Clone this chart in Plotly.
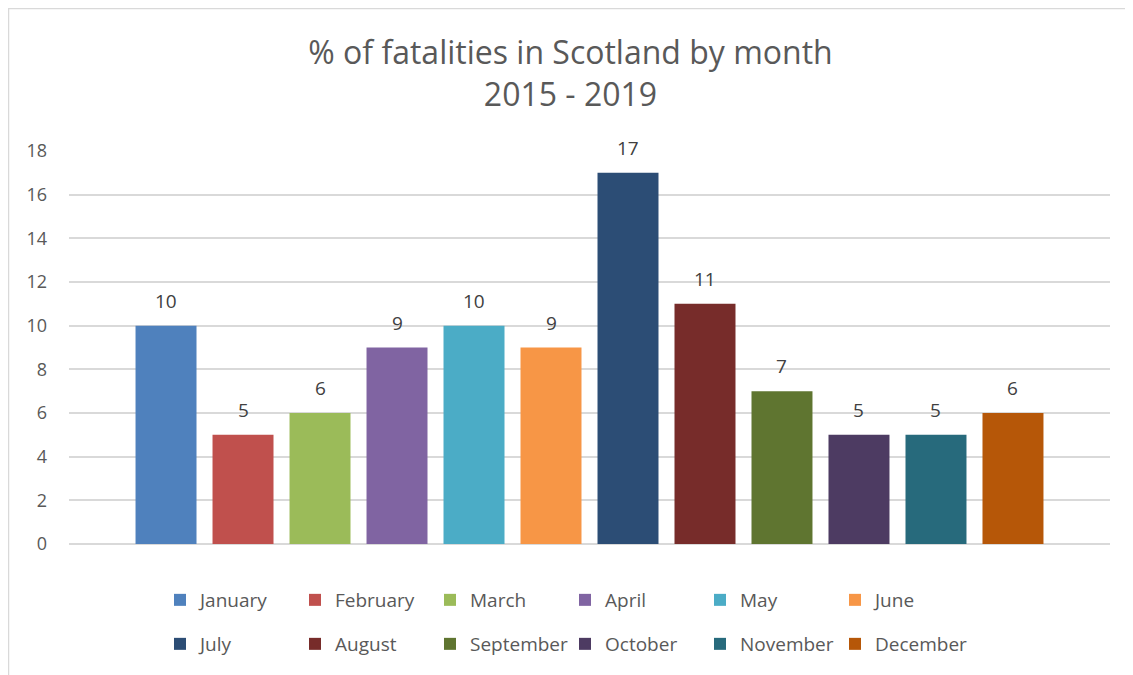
import plotly.graph_objects as go

months = ["January", "February", "March", "April", "May", "June",
          "July", "August", "September", "October", "November", "December"]
values = [10, 5, 6, 9, 10, 9, 17, 11, 7, 5, 5, 6]
colors = ["#4F81BD", "#C0504D", "#9BBB59", "#8064A2", "#4BACC6", "#F79646",
          "#2C4D75", "#772C2A", "#5F7530", "#4D3B62", "#276A7C", "#B65708"]
y_ticks = [0, 2, 4, 6, 8, 10, 12, 14, 16, 18]

# figure is placed at an 8px page offset by the browser's default body margin
W, H = 1125, 667
L, R, T, B = 61, 23, 143, 131
pw, ph = W - L - R, H - T - B

def px_x(p):
    return (p - L) / pw

def px_y(p):
    return (H - B - p) / ph

FONT = "Open Sans"
fig = go.Figure()
for i, (m, v, c) in enumerate(zip(months, values, colors)):
    fig.add_trace(go.Bar(
        x=[m], y=[v], name=m, marker=dict(color=c, line=dict(width=0)),
        legend="legend" if i < 6 else "legend2",
    ))

annotations = [dict(x=m, y=v, xref="x", yref="y", text=str(v), showarrow=False,
                    yanchor="middle", yshift=25,
                    font=dict(family=FONT, size=19, color="#404040"))
               for m, v in zip(months, values)]

legend_common = dict(
    orientation="h", font=dict(family=FONT, size=19, color="#595959"),
    entrywidth=90, entrywidthmode="pixels", xanchor="left", yanchor="middle",
    bgcolor="rgba(0,0,0,0)", itemclick=False, itemdoubleclick=False,
)

fig.update_layout(
    width=W, height=H,
    margin=dict(l=L, r=R, t=T, b=B, autoexpand=False),
    paper_bgcolor="white", plot_bgcolor="white",
    barmode="overlay", bargap=0.208,
    title=dict(text="% of fatalities in Scotland by month<br>2015 - 2019",
               x=0.5, xanchor="center", xref="container",
               y=1 - 56 / H, yanchor="top", yref="container",
               font=dict(family=FONT, size=32, color="#595959")),
    xaxis=dict(showticklabels=False, showgrid=False, zeroline=False, showline=False,
               categoryorder="array", categoryarray=months, range=[-1.26, 12.26]),
    yaxis=dict(range=[0, 18], tickvals=y_ticks, showgrid=True, gridcolor="#D9D9D9",
               gridwidth=1.5, zeroline=True, zerolinecolor="#D9D9D9", zerolinewidth=1.5,
               showline=False, ticks="", ticklabelstandoff=21,
               tickfont=dict(family=FONT, size=18, color="#595959")),
    legend=dict(x=px_x(152), y=px_y(592), **legend_common),
    legend2=dict(x=px_x(152), y=px_y(636), **legend_common),
    showlegend=True,
    annotations=annotations,
    shapes=[dict(type="rect", xref="paper", yref="paper",
                 x0=px_x(0.5), x1=px_x(W + 10), y0=px_y(H + 10), y1=px_y(0.5),
                 line=dict(color="#D9D9D9", width=1.5), layer="below")],
)

fig.write_html("out.html")
